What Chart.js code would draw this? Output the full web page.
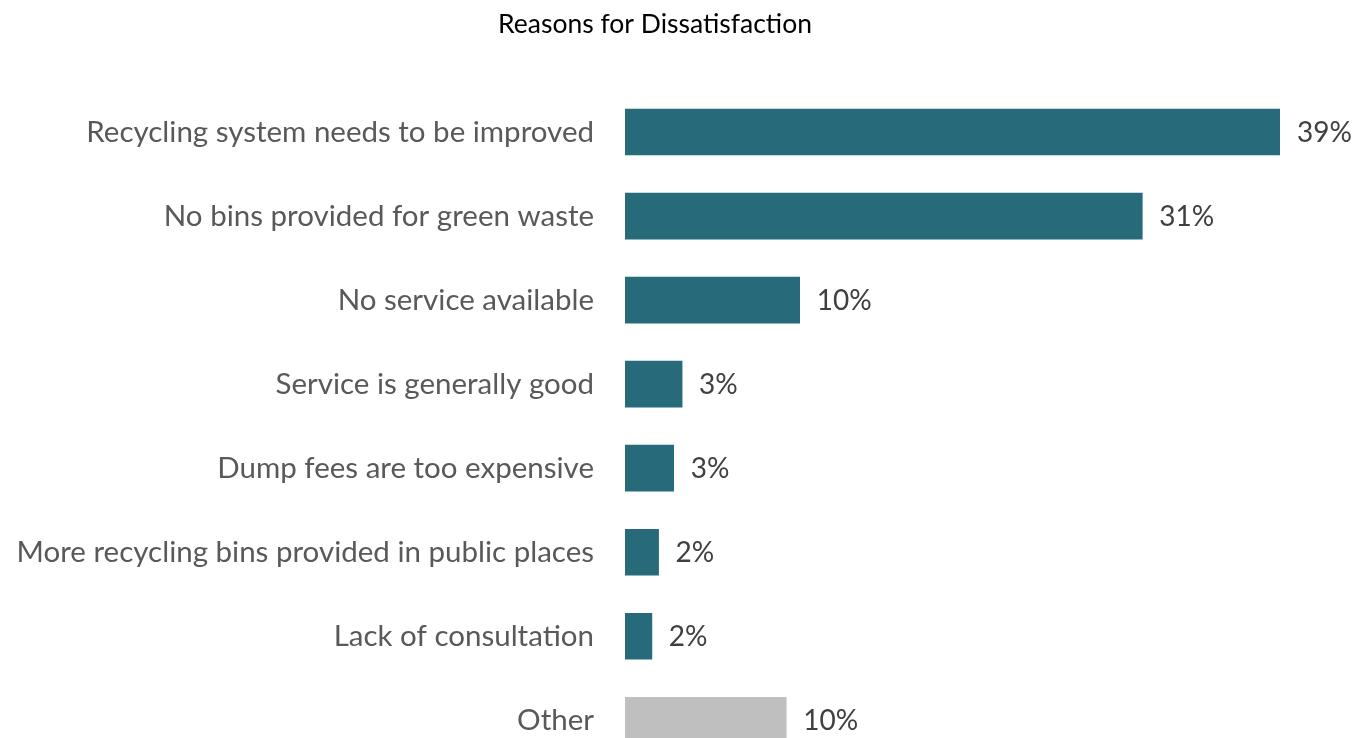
<!DOCTYPE html>
<html>
<head>
<meta charset="utf-8">
<script src="https://cdn.jsdelivr.net/npm/chart.js@4"></script>
<style>
  html, body { margin: 0; padding: 0; background: #ffffff; overflow: hidden; }
  /* taller than the window: the last row is cut by the lower edge */
  #wrap { width: 1354px; height: 811px; position: relative; }
</style>
</head>
<body>
<div id="wrap"><canvas id="chart"></canvas></div>
<script>
// Survey responses: reasons given for dissatisfaction with waste services
const chartTitle = 'Reasons for Dissatisfaction';
const categories = [
  'Recycling system needs to be improved',
  'No bins provided for green waste',
  'No service available',
  'Service is generally good',
  'Dump fees are too expensive',
  'More recycling bins provided in public places',
  'Lack of consultation',
  'Other'
];
const shares = [39, 30.8, 10.4, 3.4, 2.9, 2.0, 1.6, 9.6]; // percent of respondents
const barColors = ['#276B7A', '#276B7A', '#276B7A', '#276B7A', '#276B7A', '#276B7A', '#276B7A', '#BFBFBF'];

const FONT = 'Lato, "Open Sans", sans-serif';

// Writes the rounded percentage just past the end of each bar
const valueLabels = {
  id: 'valueLabels',
  afterDatasetsDraw(chart) {
    const ctx = chart.ctx;
    const meta = chart.getDatasetMeta(0);
    ctx.save();
    ctx.font = '28px ' + FONT;
    ctx.fillStyle = '#404040';
    ctx.textAlign = 'left';
    ctx.textBaseline = 'middle';
    meta.data.forEach((bar, i) => {
      ctx.fillText(Math.round(shares[i]) + '%', bar.x + 17, bar.y + 1);
    });
    ctx.restore();
  }
};

// Heading above the plot
const heading = {
  id: 'heading',
  afterDraw(chart) {
    const ctx = chart.ctx;
    ctx.save();
    ctx.font = '26.5px ' + FONT;
    ctx.fillStyle = '#000000';
    ctx.textAlign = 'center';
    ctx.textBaseline = 'middle';
    ctx.fillText(chartTitle, 655, 24);
    ctx.restore();
  }
};

new Chart(document.getElementById('chart'), {
  type: 'bar',
  data: {
    labels: categories,
    datasets: [{
      data: shares,
      backgroundColor: barColors,
      borderWidth: 0,
      barThickness: 46
    }]
  },
  options: {
    indexAxis: 'y',
    responsive: true,
    maintainAspectRatio: false,
    animation: false,
    layout: { padding: { top: 90, right: 74, bottom: 0, left: 0 } },
    plugins: {
      legend: { display: false },
      title: { display: false },
      tooltip: { enabled: false }
    },
    scales: {
      x: { display: false, min: 0, max: 39 },
      y: {
        grid: { display: false, drawTicks: false },
        border: { display: false },
        ticks: {
          padding: 31,
          color: '#595959',
          font: { family: FONT, size: 29.5 }
        },
        afterFit(scale) { scale.width = 625; }
      }
    }
  },
  plugins: [valueLabels, heading]
});
</script>
</body>
</html>
